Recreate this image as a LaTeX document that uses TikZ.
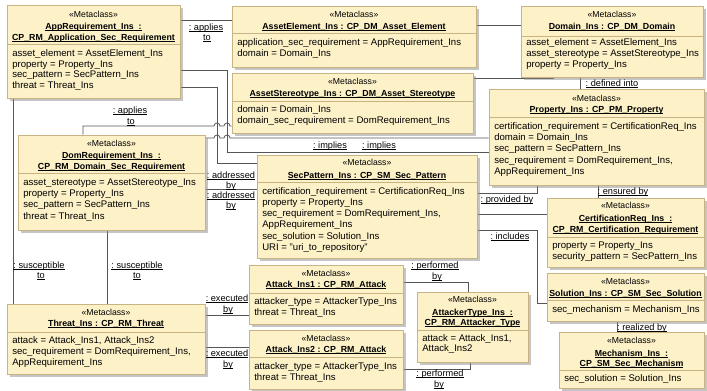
\documentclass[tikz,border=0pt]{standalone}
\usepackage{fontspec}
\setmainfont{Liberation Sans}
\usetikzlibrary{fit,shadows}
\definecolor{boxfill}{RGB}{253,241,200}
\definecolor{boxborder}{RGB}{200,180,130}
\definecolor{linegray}{RGB}{85,85,85}
\pgfdeclarelayer{bg}
\pgfsetlayers{bg,main}
\tikzset{
  umlbox/.style={draw=boxborder, fill=boxfill, line width=0.6pt, inner sep=0pt,
    drop shadow={shadow xshift=2pt, shadow yshift=-2pt, fill=black!45, opacity=0.5}},
  divline/.style={draw=boxborder, line width=0.6pt},
  stereo/.style={font=\fontsize{6.5}{7}\selectfont, anchor=base, inner sep=0pt},
  ttl/.style={font=\fontsize{6.6}{7}\selectfont\bfseries, anchor=base, inner sep=0pt},
  attr/.style={font=\fontsize{7.2}{8}\selectfont, anchor=base west, inner sep=0pt},
  lbl/.style={font=\fontsize{6.9}{7}\selectfont, anchor=base, inner sep=0pt},
  conn/.style={draw=linegray, line width=0.6pt},
}
\newsavebox\ulbox
\newcommand\uln[1]{\sbox\ulbox{#1}\rlap{\rule[-1.3pt]{\wd\ulbox}{0.45pt}}\usebox\ulbox}
\newcommand\ubox[6]{\node[umlbox, fit={(#2,#3) (#4,#5)}] (#1) {};
  \draw[divline] (#1.west |- 0,#6) -- (#1.east |- 0,#6);}
\newcommand\stlbl[3]{\node[stereo] (#1) at (#2,#3+3) {«Metaclass»};}
\newcommand\ttlline[4]{\node[ttl] (#1) at (#2,#3+3) {\uln{#4}};}
\newcommand\atline[4]{\node[attr] (#1) at (#2,#3+3) {#4};}
\newcommand\lab[4]{\node[lbl] (#1) at (#2,#3+3) {\uln{#4}};}
\begin{document}
\begin{tikzpicture}[x=0.75pt,y=-0.75pt]
\useasboundingbox (0,0) rectangle (707,390);
% ---------- boxes ----------
\ubox{app}{7}{5}{180}{98}{44}
\ubox{ae}{232}{6}{476}{67}{33}
\ubox{as}{232}{73}{473}{133}{101}
\ubox{dom}{521}{6}{703}{77}{36}
\ubox{prop}{489}{89}{704}{185}{117}
\ubox{dreq}{18}{135}{205}{230}{173}
\ubox{sp}{257}{155}{477}{258}{182}
\ubox{cert}{547}{198}{704}{267}{237}
\ubox{sol}{547}{273}{704}{321}{300}
\ubox{mech}{559}{332}{704}{388}{370}
\ubox{threat}{7}{304}{205}{374}{332}
\ubox{atka}{249}{265}{403}{324}{293}
\ubox{atkb}{249}{330}{403}{389}{357}
\ubox{atype}{417}{292}{528}{362}{330}
% ---------- texts ----------
\stlbl{app-s}{93.5}{14}
\ttlline{app-t1}{93.5}{26}{AppRequirement\_Ins\ \ :}
\ttlline{app-t2}{93.5}{37}{CP\_RM\_Application\_Sec\_Requirement}
\atline{app-a1}{12}{53}{asset\_element = AssetElement\_Ins}
\atline{app-a2}{12}{64}{property = Property\_Ins}
\atline{app-a3}{12}{74.5}{sec\_pattern = SecPattern\_Ins}
\atline{app-a4}{12}{85}{threat = Threat\_Ins}

\stlbl{ae-s}{354}{14}
\ttlline{ae-t}{354}{26}{AssetElement\_Ins : CP\_DM\_Asset\_Element}
\atline{ae-a1}{237}{42}{application\_sec\_requirement = AppRequirement\_Ins}
\atline{ae-a2}{237}{53}{domain = Domain\_Ins}

\stlbl{as-s}{352.5}{81}
\ttlline{as-t}{352.5}{93}{AssetStereotype\_Ins : CP\_DM\_Asset\_Stereotype}
\atline{as-a1}{237}{109}{domain = Domain\_Ins}
\atline{as-a2}{237}{120}{domain\_sec\_requirement = DomRequirement\_Ins}

\stlbl{dom-s}{612}{14}
\ttlline{dom-t}{612}{26}{Domain\_Ins : CP\_DM\_Domain}
\atline{dom-a1}{526}{42}{asset\_element = AssetElement\_Ins}
\atline{dom-a2}{526}{53}{asset\_stereotype = AssetStereotype\_Ins}
\atline{dom-a3}{526}{64}{property = Property\_Ins}

\stlbl{prop-s}{596.5}{98}
\ttlline{prop-t}{596.5}{109}{Property\_Ins : CP\_PM\_Property}
\atline{prop-a1}{494}{126}{certification\_requirement = CertificationReq\_Ins}
\atline{prop-a2}{494}{137}{domain = Domain\_Ins}
\atline{prop-a3}{494}{148}{sec\_pattern = SecPattern\_Ins}
\atline{prop-a4}{494}{160}{sec\_requirement = DomRequirement\_Ins,}
\atline{prop-a5}{494}{171}{AppRequirement\_Ins}

\stlbl{dreq-s}{111.5}{143}
\ttlline{dreq-t1}{111.5}{155}{DomRequirement\_Ins\ \ :}
\ttlline{dreq-t2}{111.5}{166}{CP\_RM\_Domain\_Sec\_Requirement}
\atline{dreq-a1}{23}{182}{asset\_stereotype = AssetStereotype\_Ins}
\atline{dreq-a2}{23}{193}{property = Property\_Ins}
\atline{dreq-a3}{23}{204}{sec\_pattern = SecPattern\_Ins}
\atline{dreq-a4}{23}{216}{threat = Threat\_Ins}

\stlbl{sp-s}{367}{162}
\ttlline{sp-t}{367}{175}{SecPattern\_Ins : CP\_SM\_Sec\_Pattern}
\atline{sp-a1}{262}{191}{certification\_requirement = CertificationReq\_Ins}
\atline{sp-a2}{262}{202}{property = Property\_Ins}
\atline{sp-a3}{262}{213}{sec\_requirement = DomRequirement\_Ins,}
\atline{sp-a4}{262}{224}{AppRequirement\_Ins}
\atline{sp-a5}{262}{236}{sec\_solution = Solution\_Ins}
\atline{sp-a6}{262}{247}{URI = "uri\_to\_repository"}

\stlbl{cert-s}{625.5}{205}
\ttlline{cert-t1}{625.5}{218}{CertificationReq\_Ins\ \ :}
\ttlline{cert-t2}{625.5}{229}{CP\_RM\_Certification\_Requirement}
\atline{cert-a1}{552}{245}{property = Property\_Ins}
\atline{cert-a2}{552}{256}{security\_pattern = SecPattern\_Ins}

\stlbl{sol-s}{625.5}{281}
\ttlline{sol-t}{625.5}{293}{Solution\_Ins : CP\_SM\_Sec\_Solution}
\atline{sol-a1}{552}{309}{sec\_mechanism = Mechanism\_Ins}

\stlbl{mech-s}{631.5}{340}
\ttlline{mech-t1}{631.5}{353}{Mechanism\_Ins\ \ :}
\ttlline{mech-t2}{631.5}{363}{CP\_SM\_Sec\_Mechanism}
\atline{mech-a1}{564}{378}{sec\_solution = Solution\_Ins}

\stlbl{threat-s}{106}{312}
\ttlline{threat-t}{106}{323}{Threat\_Ins : CP\_RM\_Threat}
\atline{threat-a1}{12}{340}{attack = Attack\_Ins1, Attack\_Ins2}
\atline{threat-a2}{12}{351}{sec\_requirement = DomRequirement\_Ins,}
\atline{threat-a3}{12}{362}{AppRequirement\_Ins}

\stlbl{atka-s}{326}{273}
\ttlline{atka-t}{326}{284}{Attack\_Ins1 : CP\_RM\_Attack}
\atline{atka-a1}{254}{301}{attacker\_type = AttackerType\_Ins}
\atline{atka-a2}{254}{312}{threat = Threat\_Ins}

\stlbl{atkb-s}{326}{338}
\ttlline{atkb-t}{326}{349}{Attack\_Ins2 : CP\_RM\_Attack}
\atline{atkb-a1}{254}{366}{attacker\_type = AttackerType\_Ins}
\atline{atkb-a2}{254}{377}{threat = Threat\_Ins}

\stlbl{atype-s}{472.5}{299}
\ttlline{atype-t1}{472.5}{312}{AttackerType\_Ins\ \ :}
\ttlline{atype-t2}{472.5}{322}{CP\_RM\_Attacker\_Type}
\atline{atype-a1}{422}{338}{attack = Attack\_Ins1,}
\atline{atype-a2}{422}{348}{Attack\_Ins2}
% ---------- connectors ----------
\begin{pgfonlayer}{bg}
\draw[conn] (app.east |- 0,20) -- (ae.west |- 0,20);
\draw[conn] (app.east |- 0,70) -| (227,152) -- (prop.west |- 0,152);
\draw[conn] (app.east |- 0,87) -| (217,163) -- (sp.west |- 0,163);
\draw[conn] (dreq.north -| 83,0) |- (214,126) arc[start angle=180,end angle=0,radius=2.25pt]
  -- (224,126) arc[start angle=180,end angle=0,radius=2.25pt] -- (as.west |- 0,126);
\draw[conn] (dreq.east |- 0,138) -- (214,138) arc[start angle=180,end angle=0,radius=2.25pt]
  -- (224,138) arc[start angle=180,end angle=0,radius=2.25pt] -- (prop.west |- 0,138);
\draw[conn] (dreq.east |- 0,189) -- (sp.west |- 0,189);
\draw[conn] (app.south -| 13,0) -- (threat.north -| 13,0);
\draw[conn] (dreq.south -| 107,0) -- (threat.north -| 107,0);
\draw[conn] (threat.east |- 0,315) -- (atka.west |- 0,315);
\draw[conn] (threat.east |- 0,347) -- (atkb.west |- 0,347);
\draw[conn] (atka.east |- 0,282) -| (atype.north -| 468,0);
\draw[conn] (atkb.east |- 0,369) -| (atype.south -| 470,0);
\draw[conn] (sp.east |- 0,230) -| (537,303) -- (sol.west |- 0,303);
\draw[conn] (sp.east |- 0,193) -| (prop.south -| 537,0);
\draw[conn] (sp.east |- 0,214) -- (cert.west |- 0,214);
\draw[conn] (prop.south -| 598,0) -- (cert.north -| 598,0);
\draw[conn] (dom.south -| 580,0) -- (prop.north -| 580,0);
\draw[conn] (ae.east |- 0,25) -- (dom.west |- 0,25);
\draw[conn] (as.east |- 0,78) -| (dom.south -| 553,0);
\draw[conn] (sol.south -| 617,0) -- (mech.north -| 617,0);
\end{pgfonlayer}
% ---------- labels ----------
\lab{l1a}{206}{27}{:\ applies}
\lab{l1b}{207}{37}{to}
\lab{l2}{330}{145}{:\ implies}
\lab{l3}{379}{145}{:\ implies}
\lab{l4a}{231}{175}{:\ addressed}
\lab{l4b}{231}{185}{by}
\lab{l5a}{231}{195}{:\ addressed}
\lab{l5b}{231}{205}{by}
\lab{l6a}{130}{110}{:\ applies}
\lab{l6b}{131}{121}{to}
\lab{l7a}{39}{265}{:\ susceptible}
\lab{l7b}{41}{275}{to}
\lab{l8a}{137}{265}{:\ susceptible}
\lab{l8b}{137}{275}{to}
\lab{l9a}{227}{298}{:\ executed}
\lab{l9b}{228}{309}{by}
\lab{l10a}{227}{353}{:\ executed}
\lab{l10b}{228}{364}{by}
\lab{l11a}{435}{265}{:\ performed}
\lab{l11b}{437}{276}{by}
\lab{l12a}{440}{373}{:\ performed}
\lab{l12b}{439}{384}{by}
\lab{l13}{510}{236}{:\ includes}
\lab{l14}{507}{199}{:\ provided by}
\lab{l15}{623}{191}{:\ ensured by}
\lab{l16}{612}{83}{:\ defined into}
\lab{l17}{642}{327}{:\ realized by}
\end{tikzpicture}
\end{document}
